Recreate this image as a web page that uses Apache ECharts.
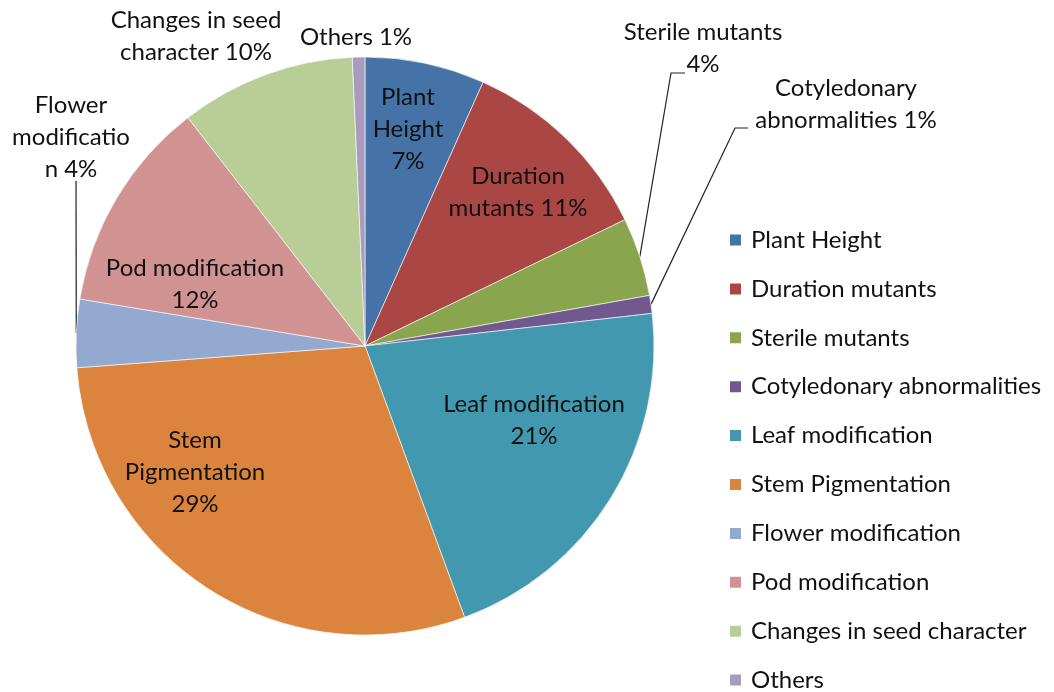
<!DOCTYPE html>
<html>
<head>
<meta charset="utf-8">
<script src="https://cdn.jsdelivr.net/npm/echarts@6/dist/echarts.min.js"></script>
<style>
html,body{margin:0;padding:0;background:#fff;}
#chart{width:1054px;height:692px;}
</style>
</head>
<body>
<div id="chart"></div>
<script>
// ---- data ----
var categories = ['Plant Height','Duration mutants','Sterile mutants','Cotyledonary abnormalities','Leaf modification','Stem Pigmentation','Flower modification','Pod modification','Changes in seed character','Others'];
var values = [6.7, 11.1, 4.4, 1.0, 21.2, 29.4, 3.8, 11.9, 9.8, 0.7];
// label text as wrapped in the picture; {p} = rounded percent
var labelTexts = ['Plant\nHeight\n{p}%','Duration\nmutants {p}%','Sterile mutants\n{p}%','Cotyledonary\nabnormalities {p}%','Leaf modification\n{p}%','Stem\nPigmentation\n{p}%','Flower\nmodificatio\nn {p}%','Pod modification\n{p}%','Changes in seed\ncharacter {p}%','Others {p}%'];

// ---- styles / layout ----
var colors = ['#4572A7','#AA4643','#89A54E','#71588F','#4198AF','#DB843D','#93A9CF','#D19392','#B9CD96','#A99BBD'];
var labelCenters = [[408,129],[518,192],[703,48],[846,104],[534,420],[195,472],[71,137],[195,284],[196,36],[356,37]];
var outsideIdx = {2:true,3:true,6:true,8:true,9:true};
var leaderCorner = {2:[[671,73],[685,73]], 3:[[735,128],[748,128]], 6:[[76,181],[76,181]]};
var FONT = 'Lato';
var FS = 24;

var total = values.reduce(function(a,b){return a+b;},0);
var data = categories.map(function(c,i){
  var item = {name:c, value:values[i], itemStyle:{color:colors[i]}};
  item.label = {position: outsideIdx[i] ? 'outside' : 'inside'};
  item.labelLine = {show: !!leaderCorner[i]};
  return item;
});

var chart = echarts.init(document.getElementById('chart'), null, {renderer:'canvas'});
chart.setOption({
  animation:false,
  backgroundColor:'#fff',
  legend:{
    orient:'vertical', left:728, top:228, height:470, padding:0,
    itemWidth:13, itemHeight:13, itemGap:24.9,
    icon:'rect',
    textStyle:{fontFamily:FONT, fontSize:FS, color:'#111', padding:[0,0,0,4]},
    data:categories
  },
  series:[{
    type:'pie',
    center:[365,346],
    radius:289,
    startAngle:90,
    clockwise:true,
    avoidLabelOverlap:false,
    itemStyle:{borderColor:'#ffffff', borderWidth:0.6},
    label:{
      show:true, color:'#111', fontFamily:FONT, fontSize:FS, lineHeight:32, align:'center',
      formatter:function(p){ return labelTexts[p.dataIndex].replace('{p}', Math.round(p.value/total*100)); }
    },
    labelLine:{show:false, lineStyle:{color:'#222', width:1.2}, length:10, length2:10},
    labelLayout:function(p){
      var i = p.dataIndex;
      var c = labelCenters[i];
      var res = {x:c[0], y:c[1], align:'center', verticalAlign:'middle'};
      if (leaderCorner[i] && p.labelLinePoints) {
        var s = p.labelLinePoints[0];
        res.labelLinePoints = [[s[0],s[1]], leaderCorner[i][0], leaderCorner[i][1]];
      }
      return res;
    },
    data:data
  }]
});
</script>
</body>
</html>
